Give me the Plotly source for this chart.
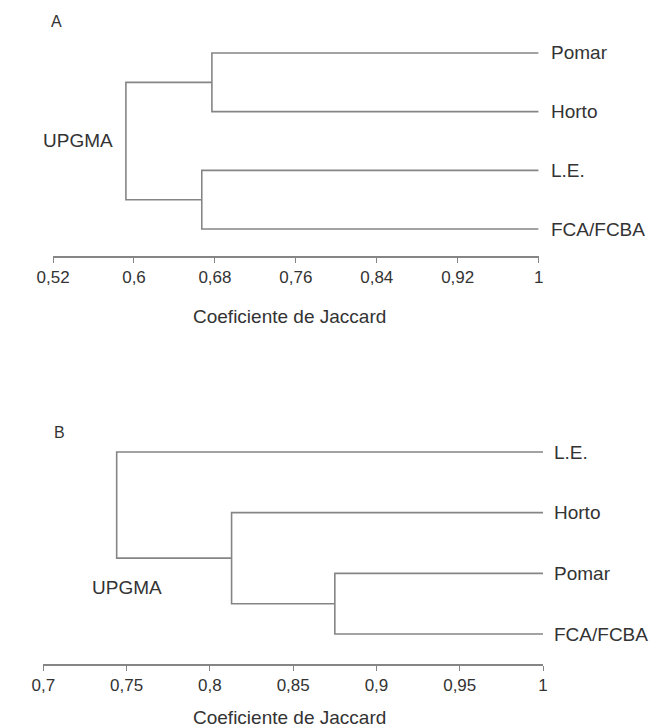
import plotly.graph_objects as go

# ---------------- data ----------------
# Panel A (UPGMA, Jaccard similarity)
leaves_a = ["Pomar", "Horto", "L.E.", "FCA/FCBA"]
merge_a_left = [0, 2, 4]          # cluster ids (leaves 0..3, new clusters 4..)
merge_a_right = [1, 3, 5]
merge_a_height = [0.677, 0.667, 0.592]
ticks_a = [0.52, 0.60, 0.68, 0.76, 0.84, 0.92, 1.0]
ticklabels_a = ["0,52", "0,6", "0,68", "0,76", "0,84", "0,92", "1"]

# Panel B
leaves_b = ["L.E.", "Horto", "Pomar", "FCA/FCBA"]
merge_b_left = [2, 1, 0]
merge_b_right = [3, 4, 5]
merge_b_height = [0.875, 0.813, 0.744]
ticks_b = [0.70, 0.75, 0.80, 0.85, 0.90, 0.95, 1.0]
ticklabels_b = ["0,7", "0,75", "0,8", "0,85", "0,9", "0,95", "1"]

axis_title = "Coeficiente de Jaccard"
method_label = "UPGMA"

# ---------------- layout helpers ----------------
W, H = 665, 728
FONT = "Liberation Sans, Arial, sans-serif"
LINE_COLOR = "#858585"
TEXT_COLOR = "#333333"


def fx(p):
    return p / W


def fy(p):
    return 1 - p / H


def dendro_segments(n_leaves, left, right, heights):
    pos = {i: (1.0, float(i)) for i in range(n_leaves)}
    xs, ys = [], []
    for k, (a, b, h) in enumerate(zip(left, right, heights)):
        xa, ya = pos[a]
        xb, yb = pos[b]
        xs += [xa, h, h, xb, None]
        ys += [ya, ya, yb, yb, None]
        pos[n_leaves + k] = (h, (ya + yb) / 2)
    return xs, ys


fig = go.Figure()

xa_, ya_ = dendro_segments(len(leaves_a), merge_a_left, merge_a_right, merge_a_height)
fig.add_trace(go.Scatter(x=xa_, y=ya_, mode="lines", xaxis="x", yaxis="y",
                         line=dict(color=LINE_COLOR, width=1.6),
                         hoverinfo="skip", showlegend=False, cliponaxis=False))

xb_, yb_ = dendro_segments(len(leaves_b), merge_b_left, merge_b_right, merge_b_height)
fig.add_trace(go.Scatter(x=xb_, y=yb_, mode="lines", xaxis="x2", yaxis="y2",
                         line=dict(color=LINE_COLOR, width=1.6),
                         hoverinfo="skip", showlegend=False, cliponaxis=False))

# pixel geometry
A_left, A_right, A_axis, A_leaf0, A_step, A_top = 37.3, 539.5, 256, 53, 58.67, 25
B_left, B_right, B_axis, B_leaf0, B_step, B_top = 27.3, 544, 664, 452, 60.67, 425

xaxis_common = dict(showline=True, linecolor=LINE_COLOR, linewidth=1.5,
                    ticks="outside", ticklen=5, tickwidth=1.3, tickcolor=LINE_COLOR,
                    showgrid=False, zeroline=False,
                    tickfont=dict(family=FONT, size=17, color=TEXT_COLOR),
                    fixedrange=True)
yaxis_common = dict(visible=False, showgrid=False, zeroline=False, fixedrange=True)

fig.update_layout(
    width=W, height=H,
    margin=dict(l=0, r=0, t=0, b=0),
    paper_bgcolor="white", plot_bgcolor="white",
    xaxis=dict(domain=[fx(A_left), fx(A_right)], range=[ticks_a[0], ticks_a[-1]],
               tickvals=ticks_a, ticktext=ticklabels_a, anchor="y", **xaxis_common),
    yaxis=dict(domain=[fy(A_axis), fy(A_top)],
               range=[(A_axis - A_leaf0) / A_step, (A_top - A_leaf0) / A_step],
               anchor="x", **yaxis_common),
    xaxis2=dict(domain=[fx(B_left), fx(B_right)], range=[ticks_b[0], ticks_b[-1]],
                tickvals=ticks_b, ticktext=ticklabels_b, anchor="y2", **xaxis_common),
    yaxis2=dict(domain=[fy(B_axis), fy(B_top)],
                range=[(B_axis - B_leaf0) / B_step, (B_top - B_leaf0) / B_step],
                anchor="x2", **yaxis_common),
)

ann = []
for i, name in enumerate(leaves_a):
    ann.append(dict(x=1.0, y=i, xref="x", yref="y", text=name, showarrow=False,
                    xanchor="left", yanchor="middle", xshift=10,
                    font=dict(family=FONT, size=19, color=TEXT_COLOR)))
for i, name in enumerate(leaves_b):
    ann.append(dict(x=1.0, y=i, xref="x2", yref="y2", text=name, showarrow=False,
                    xanchor="left", yanchor="middle", xshift=9,
                    font=dict(family=FONT, size=19, color=TEXT_COLOR)))

# method labels
ann.append(dict(x=fx(25), y=fy(141), xref="paper", yref="paper", text=method_label,
                showarrow=False, xanchor="left", yanchor="middle",
                font=dict(family=FONT, size=19, color=TEXT_COLOR)))
ann.append(dict(x=fx(76), y=fy(587), xref="paper", yref="paper", text=method_label,
                showarrow=False, xanchor="left", yanchor="middle",
                font=dict(family=FONT, size=19, color=TEXT_COLOR)))

# axis titles
ann.append(dict(x=fx(282), y=fy(316), xref="paper", yref="paper", text=axis_title,
                showarrow=False, xanchor="center", yanchor="middle",
                font=dict(family=FONT, size=19, color=TEXT_COLOR)))
ann.append(dict(x=fx(282), y=fy(717), xref="paper", yref="paper", text=axis_title,
                showarrow=False, xanchor="center", yanchor="middle",
                font=dict(family=FONT, size=19, color=TEXT_COLOR)))

# panel letters
ann.append(dict(x=fx(33), y=fy(21), xref="paper", yref="paper", text="A",
                showarrow=False, xanchor="left", yanchor="middle",
                font=dict(family=FONT, size=16, color=TEXT_COLOR)))
ann.append(dict(x=fx(36), y=fy(432), xref="paper", yref="paper", text="B",
                showarrow=False, xanchor="left", yanchor="middle",
                font=dict(family=FONT, size=16, color=TEXT_COLOR)))

fig.update_layout(annotations=ann)

fig.write_html("out.html", config={"displayModeBar": False},
               post_script="document.body.style.margin='0px';")
